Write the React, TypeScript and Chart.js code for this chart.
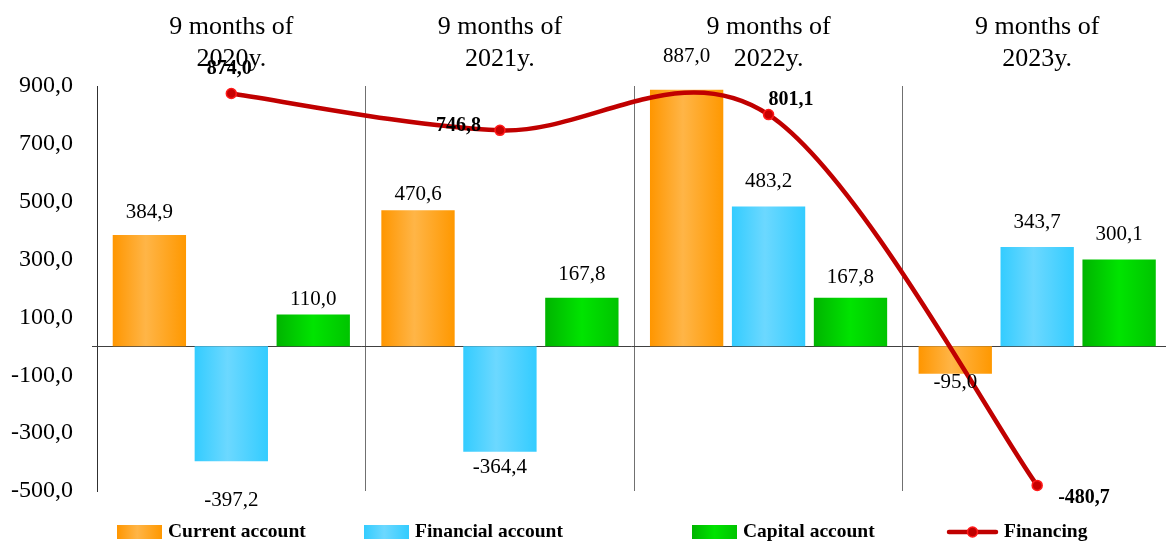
import React, { useEffect, useRef } from "react";
import { Chart, registerables } from "chart.js";

Chart.register(...registerables);

// ---------- data ----------
const categories: string[][] = [
  ["9 months of", "2020y."],
  ["9 months of", "2021y."],
  ["9 months of", "2022y."],
  ["9 months of", "2023y."],
];
const currentAccount = [384.9, 470.6, 887.0, -95.0];
const financialAccount = [-397.2, -364.4, 483.2, 343.7];
const capitalAccount = [110.0, 167.8, 167.8, 300.1];
const financing = [874.0, 746.8, 801.1, -480.7];
const seriesNames = ["Current account", "Financial account", "Capital account", "Financing"];
const yMin = -500;
const yMax = 900;
const yStep = 200;

// ---------- styling ----------
const FONT = '"Liberation Serif", "Times New Roman", serif';
const CAT_PCT = 0.915;
const BAR_PCT = 0.895;
const GRADIENTS: [number, string][][] = [
  [[0, "#FF9600"], [0.45, "#FFB547"], [1, "#FF9800"]],
  [[0, "#33CCFF"], [0.45, "#6CD8FF"], [1, "#33CCFF"]],
  [[0, "#00B400"], [0.5, "#00E400"], [1, "#00C400"]],
];
// vertical offsets (px) of the bar value labels, per series
const BAR_LABEL_DY = [
  [-23, -16, -33, 9],
  [39, 16, -25, -24],
  [-15, -23, -20, -25],
];
// financing label placement: dx, dy, align
const LINE_LABEL_POS: [number, number, CanvasTextAlign][] = [
  [-2, -25, "center"],
  [-19, -4, "right"],
  [0, -15, "left"],
  [21, 12, "left"],
];

const fmt = (v: number) => v.toFixed(1).replace(".", ",");

function barGradient(si: number) {
  return (c: any) => {
    const chart = c.chart;
    const xs = chart.scales && chart.scales.x;
    const stops = GRADIENTS[si];
    if (!xs || c.dataIndex === undefined || !xs.width) return stops[1][1];
    const catW = xs.width / categories.length;
    const slot = (catW * CAT_PCT) / 3;
    const barW = slot * BAR_PCT;
    const cx = xs.getPixelForValue(c.dataIndex) + (si - 1) * slot;
    const g = chart.ctx.createLinearGradient(cx - barW / 2, 0, cx + barW / 2, 0);
    stops.forEach(([o, col]) => g.addColorStop(o, col));
    return g;
  };
}

// Excel-style (uniform Catmull-Rom) smoothing of the financing line
const smoothPlugin = {
  id: "catmullRom",
  beforeDatasetDraw(chart: any, args: any) {
    if (args.index !== 3) return;
    const meta = chart.getDatasetMeta(3);
    const line = meta.dataset;
    if (line && line.updateControlPoints) line.updateControlPoints(chart.chartArea, "x");
    const pts = meta.data;
    const n = pts.length;
    for (let i = 0; i < n; i++) {
      const p = pts[Math.max(0, i - 1)];
      const q = pts[Math.min(n - 1, i + 1)];
      const dx = (q.x - p.x) / 6;
      const dy = (q.y - p.y) / 6;
      pts[i].cp1x = pts[i].x - dx;
      pts[i].cp1y = pts[i].y - dy;
      pts[i].cp2x = pts[i].x + dx;
      pts[i].cp2y = pts[i].y + dy;
    }
    if (line) line._path = undefined;
  },
};

const zeroLinePlugin = {
  id: "zeroLine",
  beforeDatasetsDraw(chart: any) {
    const { ctx, chartArea, scales } = chart;
    const y = Math.round(scales.y.getPixelForValue(0)) + 0.5;
    ctx.save();
    ctx.strokeStyle = "#404040";
    ctx.lineWidth = 1;
    ctx.beginPath();
    ctx.moveTo(chartArea.left - 5, y);
    ctx.lineTo(chartArea.right, y);
    ctx.stroke();
    ctx.restore();
  },
};

const labelPlugin = {
  id: "valueLabels",
  afterDatasetsDraw(chart: any) {
    const ctx = chart.ctx;
    ctx.save();
    ctx.fillStyle = "#000";
    ctx.textBaseline = "middle";
    for (let di = 0; di < 3; di++) {
      const meta = chart.getDatasetMeta(di);
      const data = chart.data.datasets[di].data as number[];
      ctx.font = `21px ${FONT}`;
      ctx.textAlign = "center";
      meta.data.forEach((el: any, i: number) => {
        const v = data[i];
        const edge = v >= 0 ? Math.min(el.y, el.base) : Math.max(el.y, el.base);
        ctx.fillText(fmt(v), el.x, edge + BAR_LABEL_DY[di][i]);
      });
    }
    const lm = chart.getDatasetMeta(3);
    ctx.font = `bold 20px ${FONT}`;
    lm.data.forEach((el: any, i: number) => {
      const [dx, dy, al] = LINE_LABEL_POS[i];
      ctx.textAlign = al;
      ctx.fillText(fmt(financing[i]), el.x + dx, el.y + dy);
    });
    ctx.restore();
  },
};

const LEGEND_CY = 532;
const LEGEND_X = [117, 364, 692, 947];
const legendPlugin = {
  id: "customLegend",
  afterDraw(chart: any) {
    const ctx = chart.ctx;
    ctx.save();
    ctx.font = `bold 19.5px ${FONT}`;
    seriesNames.forEach((name, i) => {
      const x = LEGEND_X[i];
      const symW = i === 3 ? 51 : 45;
      if (i < 3) {
        const g = ctx.createLinearGradient(x, 0, x + symW, 0);
        GRADIENTS[i].forEach(([o, col]) => g.addColorStop(o, col));
        ctx.fillStyle = g;
        ctx.fillRect(x, LEGEND_CY - 7, symW, 14);
      } else {
        ctx.strokeStyle = "#C00000";
        ctx.lineWidth = 4.5;
        ctx.lineCap = "round";
        ctx.beginPath();
        ctx.moveTo(x + 2, LEGEND_CY);
        ctx.lineTo(x + symW - 2, LEGEND_CY);
        ctx.stroke();
        ctx.beginPath();
        ctx.arc(x + symW / 2, LEGEND_CY, 5, 0, Math.PI * 2);
        ctx.fillStyle = "#C00000";
        ctx.fill();
        ctx.lineWidth = 1.5;
        ctx.strokeStyle = "#FF1A1A";
        ctx.stroke();
      }
      ctx.fillStyle = "#000";
      ctx.textAlign = "left";
      ctx.textBaseline = "middle";
      ctx.fillText(name, x + symW + 6, LEGEND_CY);
    });
    ctx.restore();
  },
};

export default function App() {
  const ref = useRef<HTMLCanvasElement>(null);
  useEffect(() => {
    document.body.style.margin = "0";
    document.body.style.overflow = "hidden";
    const canvas = ref.current!;
    const chart = new Chart(canvas, {
      type: "bar",
      data: {
        labels: categories as any,
        datasets: [
          { label: seriesNames[0], data: currentAccount, backgroundColor: barGradient(0) as any, order: 0 },
          { label: seriesNames[1], data: financialAccount, backgroundColor: barGradient(1) as any, order: 0 },
          { label: seriesNames[2], data: capitalAccount, backgroundColor: barGradient(2) as any, order: 0 },
          {
            type: "line",
            label: seriesNames[3],
            data: financing,
            borderColor: "#C00000",
            borderWidth: 4.5,
            pointRadius: 5,
            pointBackgroundColor: "#C80000",
            pointBorderColor: "#FF1A1A",
            pointBorderWidth: 1.5,
            tension: 0.4,
            order: -1,
            clip: false as any,
          } as any,
        ],
      },
      options: {
        responsive: false,
        animation: false,
        devicePixelRatio: 1,
        layout: { padding: { top: 0, right: 0, bottom: 52, left: 0 } },
        datasets: { bar: { categoryPercentage: CAT_PCT, barPercentage: BAR_PCT } },
        elements: { line: { capBezierPoints: false } as any },
        plugins: { legend: { display: false }, tooltip: { enabled: false } },
        scales: {
          x: {
            position: "top",
            offset: true,
            border: { display: false },
            grid: { display: true, offset: true, drawTicks: false, color: "#707070", lineWidth: 1 },
            ticks: {
              padding: 11,
              color: "#000",
              maxRotation: 0,
              autoSkip: false,
              font: { family: FONT, size: 26, lineHeight: "32px" as any },
            },
            afterFit: (s: any) => {
              s.height = 86;
              s.paddingLeft = 0;
              s.paddingRight = 0;
            },
          },
          y: {
            min: yMin,
            max: yMax,
            border: { display: true, color: "#303030", width: 1 },
            grid: { display: false, drawTicks: false },
            ticks: {
              stepSize: yStep,
              padding: 24,
              color: "#000",
              font: { family: FONT, size: 24 },
              callback: (v: any) => fmt(Number(v)),
            },
            afterFit: (s: any) => {
              s.width = 97;
            },
          },
        },
      },
      plugins: [smoothPlugin, zeroLinePlugin, labelPlugin, legendPlugin],
    });
    return () => chart.destroy();
  }, []);
  return (
    <div style={{ width: 1166, height: 543, overflow: "hidden", position: "relative" }}>
      <canvas ref={ref} width={1178} height={543} style={{ display: "block", width: 1178, height: 543 }} />
    </div>
  );
}
